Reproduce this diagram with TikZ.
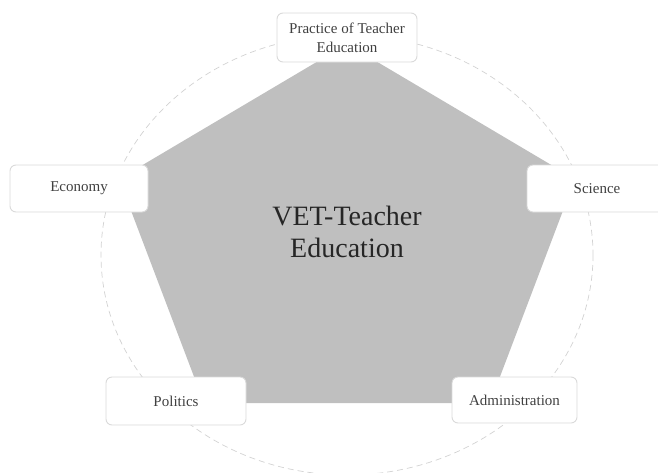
\documentclass[tikz,border=0pt]{standalone}
\usepackage{fontspec}
\setmainfont{Liberation Serif}
\definecolor{pentfill}{RGB}{191,191,191}
\definecolor{boxline}{RGB}{218,218,218}
\definecolor{ringline}{RGB}{210,210,210}
\definecolor{labeltext}{RGB}{64,64,64}
\definecolor{centretext}{RGB}{38,38,38}
\begin{document}
\begin{tikzpicture}
[x=1pt,y=-1pt,
  boxdecorate/.style={shape=rectangle,rounded corners=6pt,draw=boxline,fill=white,line width=0.9pt,%
    minimum height=47pt,inner sep=2pt,text=labeltext,font=\fontsize{15}{19}\selectfont,align=center},
  ringdecorate/.style={draw=ringline,dash pattern=on 6pt off 4pt,line width=0.7pt},
  pentdecorate/.style={fill=pentfill,draw=none}]
\useasboundingbox (0,0) rectangle (658,472);
% dashed ring behind everything
\draw[ringdecorate] (347,255) ellipse [x radius=246, y radius=220];
% corners of the pentagon
\coordinate (ptop) at (347,44);
\coordinate (pright) at (575,179);
\coordinate (pbr) at (490,403);
\coordinate (pbl) at (204,403);
\coordinate (pleft) at (119,179);
\fill[pentdecorate] (ptop) -- (pright) -- (pbr) -- (pbl) -- (pleft) -- cycle;
% centre label
\node (centre) at (347,232) [text=centretext,font=\fontsize{28}{32}\selectfont,align=center]
  {VET-Teacher\\Education};
% the five boxes
\node (practice) at (347,37.5) [boxdecorate,minimum width=140pt,minimum height=49pt] {Practice of Teacher\\Education};
\node (economy) at (79,188.5) [boxdecorate,minimum width=138pt] {Economy};
\node (science) at (597,188.5) [boxdecorate,minimum width=140pt] {Science};
\node (politics) at (176,401) [boxdecorate,minimum width=140pt,minimum height=48pt] {Politics};
\node (admin) at (514.5,400) [boxdecorate,minimum width=125pt,minimum height=46pt] {Administration};
\end{tikzpicture}
\end{document}
